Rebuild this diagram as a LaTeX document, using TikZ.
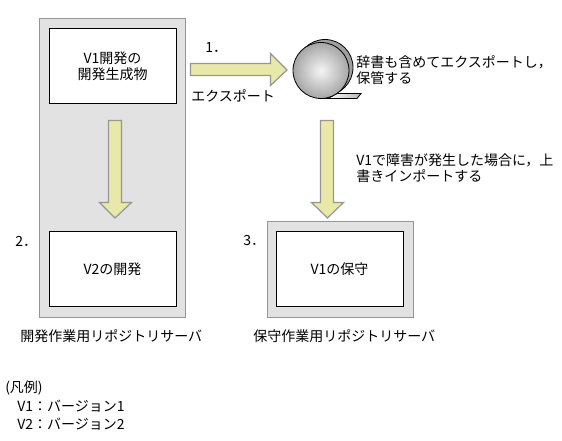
\documentclass[tikz,border=0pt]{standalone}
\usepackage{fontspec}
\setmainfont{Noto Sans CJK JP}
\usetikzlibrary{calc}
\definecolor{srv}{HTML}{E2E2E2}
\definecolor{srvl}{HTML}{969696}
\definecolor{arr}{HTML}{E8E8A8}
\tikzset{
  server/.style={draw=srvl,fill=srv,line width=0.9pt},
  inner/.style={draw=black,fill=white,line width=0.75pt},
  blockarrow/.style={draw=srvl,fill=arr,line width=0.9pt,line join=miter},
  txt/.style={font=\fontsize{10.5}{12.3}\selectfont,inner sep=0pt,align=left,text=black},
  ctxt/.style={txt,align=center}
}
\begin{document}
\begin{tikzpicture}[x=0.75pt,y=-0.75pt]
\useasboundingbox (0,0) rectangle (562,441);
% servers
\draw[server] (39.5,18.5) rectangle (185.5,317.5);
\draw[server] (267.5,221.5) rectangle (413.5,317.5);
\node[inner,minimum width=95.25pt,minimum height=56.25pt,inner sep=0pt] (v1dev) at (112.5,66.5) {};
\node[inner,minimum width=95.25pt,minimum height=56.25pt,inner sep=0pt] (v2dev) at (112.5,269) {};
\node[inner,minimum width=95.25pt,minimum height=56.25pt,inner sep=0pt] (v1mnt) at (339.5,269) {};
\node[ctxt] at (v1dev) {V1開発の\\開発生成物};
\node[ctxt] at (v2dev) {V2の開発};
\node[ctxt] at (v1mnt) {V1の保守};
% arrows
\draw[blockarrow] (190.5,63.5) -- (270.5,63.5) -- (270.5,53.5) -- (287,70) -- (270.5,85.5) -- (270.5,75.5) -- (190.5,75.5) -- cycle;
\draw[blockarrow] (108.5,120.5) -- (121.5,120.5) -- (121.5,202.5) -- (131.5,202.5) -- (115,218) -- (99.5,202.5) -- (108.5,202.5) -- cycle;
\draw[blockarrow] (320.5,120.5) -- (333.5,120.5) -- (333.5,202.5) -- (343.5,202.5) -- (327.5,218) -- (311.5,202.5) -- (320.5,202.5) -- cycle;
% disk
\draw[black,line width=0.6pt,left color=white,right color=srvl!70] (328,98.5) -- (337,93.5) -- (361,93.5) -- (357,98.5) -- cycle;
\fill[gray!75,draw=black,line width=0.6pt] (325,67.5) circle (28);
\shade[inner color=srv!35!white,outer color=gray!70] (321,70.5) circle (28);
\draw[black,line width=0.6pt] (321,70.5) circle (28);
\draw[black,line width=0.6pt] (321,98.5) -- (337,98.5);
% labels
\node[txt,anchor=west] at (205,47.5) {1．};
\node[txt,anchor=west] at (191,96) {エクスポート};
\node[txt,anchor=north west] at (356,55) {辞書も含めてエクスポートし，\\保管する};
\node[txt,anchor=north west] at (356,153) {V1で障害が発生した場合に，上\\書きインポートする};
\node[txt,anchor=west] at (15,241) {2．};
\node[txt,anchor=west] at (243,241) {3．};
\node[txt,anchor=west] at (20,336) {開発作業用リポジトリサーバ};
\node[txt,anchor=west] at (253,336) {保守作業用リポジトリサーバ};
\node[txt,anchor=west] at (5,388) {(凡例)};
\node[txt,anchor=west] at (17,406) {V1：バージョン1};
\node[txt,anchor=west] at (17,424) {V2：バージョン2};
\end{tikzpicture}
\end{document}
